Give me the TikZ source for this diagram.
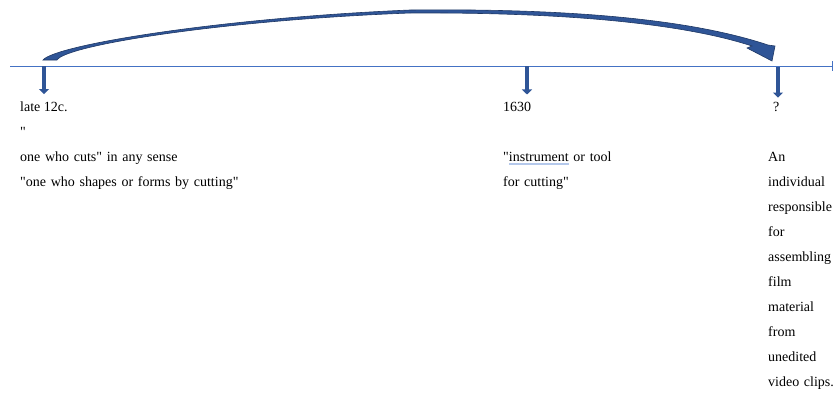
\documentclass[tikz,border=0pt]{standalone}
\usepackage{fontspec}
\setmainfont{Liberation Serif}[Ligatures=TeXOff]
\usetikzlibrary{arrows.meta}
\definecolor{lineblue}{RGB}{68,114,196}
\definecolor{arrowfill}{RGB}{47,85,151}
\definecolor{arrowedge}{RGB}{31,56,100}
\definecolor{spellblue}{RGB}{180,200,235}
\newsavebox\spellbox
\newcommand\spellmark[1]{\sbox\spellbox{#1}\rlap{\textcolor{spellblue}{\rule[-3.5pt]{\wd\spellbox}{1.8pt}}}\usebox\spellbox}
\begin{document}
\begin{tikzpicture}[x=1pt,y=-1pt,timeline/.style={draw=lineblue, line width=1pt},tickarrow/.style={draw=arrowfill, line width=4pt, -{Triangle[width=10pt,length=5pt]}, shorten >=7pt},date/.style={anchor=base west, inner sep=0pt, font=\fontsize{14}{25}\selectfont},gloss/.style={anchor=base west, inner sep=0pt, align=left, text width=#1, font=\fontsize{14}{25}\selectfont}]
\useasboundingbox (0,0) rectangle (834,392);
% time line
\coordinate (lstart) at (10,66); \coordinate (lend) at (833,66);
\draw[timeline, -{Bar[width=10pt]}] (lstart) -- (lend);
% curved arrow over the line
\filldraw[fill=arrowfill, draw=arrowedge, line width=0.6pt] (43,60) .. controls (55,45) and (220,18) .. (410,10) .. controls (600,8) and (705,24) .. (768,45) -- (775,46) -- (772,61) -- (747,48) -- (752,46) .. controls (700,29) and (600,12) .. (410,13) .. controls (225,20) and (66,45) .. (57,60) -- cycle;
% dates
\node[date] (d1) at (20,111) {late 12c.};
\node[date] (d2) at (503,111) {1630};
\node[date] (d3) at (773,111) {?};
\coordinate (t1) at (44,66); \coordinate (t2) at (527,66); \coordinate (t3) at (778,67);
\draw[tickarrow] (t1) -- (t1 |- d1.north);
\draw[tickarrow] (t2) -- (t2 |- d2.north);
\draw[tickarrow, shorten >=4pt] (t3) -- (t3 |- d3.north);
% meanings
\node[gloss=300pt] (g1) at (20,136) {"\\one who cuts" in any sense\\"one who shapes or forms by cutting"};
\node[gloss=200pt] (g2) at (503,161) {"\spellmark{instrument} or tool\\for cutting"};
\node[gloss=80pt] (g3) at (768,161) {An\\individual\\responsible\\for\\assembling\\film\\material\\from\\unedited\\video clips.};
\end{tikzpicture}
\end{document}
